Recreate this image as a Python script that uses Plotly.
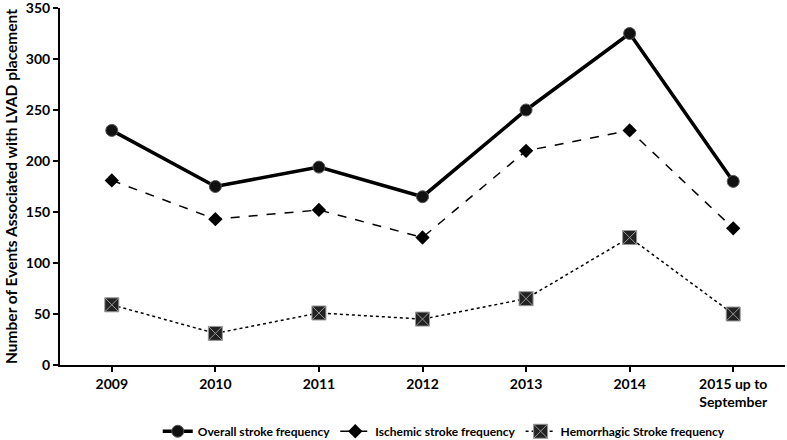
import plotly.graph_objects as go

categories = ["2009", "2010", "2011", "2012", "2013", "2014", "2015 up to<br>September"]
overall = [230, 175, 194, 165, 250, 325, 180]
ischemic = [181, 143, 152, 125, 210, 230, 134]
hemorrhagic = [59, 31, 51, 45, 65, 125, 50]
y_ticks = [0, 50, 100, 150, 200, 250, 300, 350]

FONT = "Lato"

fig = go.Figure()
fig.add_trace(go.Scatter(
    x=categories, y=overall, name="Overall stroke frequency",
    mode="lines+markers",
    line=dict(color="black", width=3.5),
    marker=dict(symbol="circle", size=12, color="#111", line=dict(color="#555", width=1)),
))
fig.add_trace(go.Scatter(
    x=categories, y=ischemic, name="Ischemic stroke frequency",
    mode="lines+markers",
    line=dict(color="black", width=1.5, dash="dash"),
    marker=dict(symbol="diamond", size=11, color="black"),
))
fig.add_trace(go.Scatter(
    x=categories, y=hemorrhagic, name="Hemorrhagic Stroke frequency",
    mode="lines+markers",
    line=dict(color="black", width=1.5, dash="dot"),
    marker=dict(symbol="square-x", size=14, color="#222", line=dict(color="#999", width=1)),
))

fig.update_layout(
    width=787, height=440,
    margin=dict(l=60, r=2, t=8, b=75, autoexpand=False),
    plot_bgcolor="white", paper_bgcolor="white",
    font=dict(family=FONT, color="black"),
    showlegend=True,
    legend=dict(orientation="h", x=0.53, xanchor="center", y=-0.145, yanchor="top",
                font=dict(size=12, family=FONT, weight="bold"), itemwidth=30,
                tracegroupgap=0),
)
fig.update_xaxes(
    type="category", range=[-0.5, 6.5], automargin=False,
    showline=True, linecolor="black", linewidth=2,
    ticks="outside", ticklen=5, tickwidth=1.5, tickcolor="black",
    showgrid=False, tickfont=dict(size=14, family=FONT, weight="bold"),
)
fig.update_yaxes(
    range=[0, 350], tickmode="array", tickvals=y_ticks,
    ticktext=[str(v) for v in y_ticks], automargin=False,
    showline=True, linecolor="black", linewidth=2,
    ticks="outside", ticklen=5, tickwidth=1.5, tickcolor="black",
    showgrid=False, zeroline=False, ticklabeloverflow="allow",
    tickfont=dict(size=14, family=FONT, weight="bold"),
    title=dict(text="Number of Events Associated with LVAD placement",
               font=dict(size=15.5, family=FONT, weight="bold"), standoff=4),
)

fig.write_html("out.html", config={"displayModeBar": False},
               post_script="document.body.style.margin='0';document.body.style.overflow='hidden';")
